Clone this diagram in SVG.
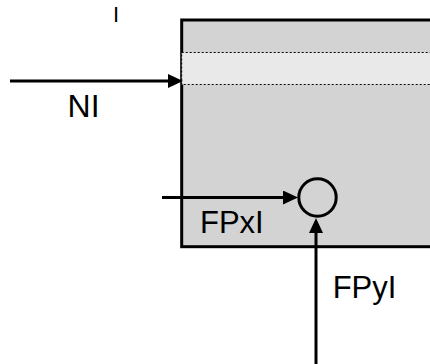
<svg xmlns="http://www.w3.org/2000/svg" width="430" height="364" viewBox="0 0 430 364">
<style>
text{font-family:"Liberation Sans",Arial,sans-serif;fill:#000}
.lbl{font-size:31px}
.c{stroke:#000;stroke-width:3;fill:none}
</style>
<defs>
<marker id="ah" viewBox="0 0 15 14" refX="11" refY="7" markerWidth="15" markerHeight="14" markerUnits="userSpaceOnUse" orient="auto">
<path d="M0,0 L15,7 L0,14 Z" fill="#000"/>
</marker>
</defs>
<text x="113" y="21.5" style="font-size:22px">I</text>
<g id="block">
<rect x="181.7" y="20" width="262" height="226.7" fill="#d3d3d3" stroke="#000" stroke-width="3"/>
<rect x="181.7" y="52.5" width="262" height="32" fill="#e9e9e9" stroke="#000" stroke-width="1" stroke-dasharray="2,2"/>
</g>
<g id="sum">
<circle cx="317.5" cy="197.5" r="18.7" fill="none" stroke="#000" stroke-width="3"/>
</g>
<g id="connectors">
<line class="c" x1="10" y1="81" x2="179" y2="81" marker-end="url(#ah)"/>
<line class="c" x1="162" y1="197.5" x2="294" y2="197.5" marker-end="url(#ah)"/>
<line class="c" x1="316" y1="364" x2="316" y2="222" marker-end="url(#ah)"/>
</g>
<text x="67.6" y="116.7" style="font-size:32px">NI</text>
<text class="lbl" x="200" y="232.5">FPxI</text>
<text class="lbl" x="332.7" y="298.3">FPyI</text>
</svg>
